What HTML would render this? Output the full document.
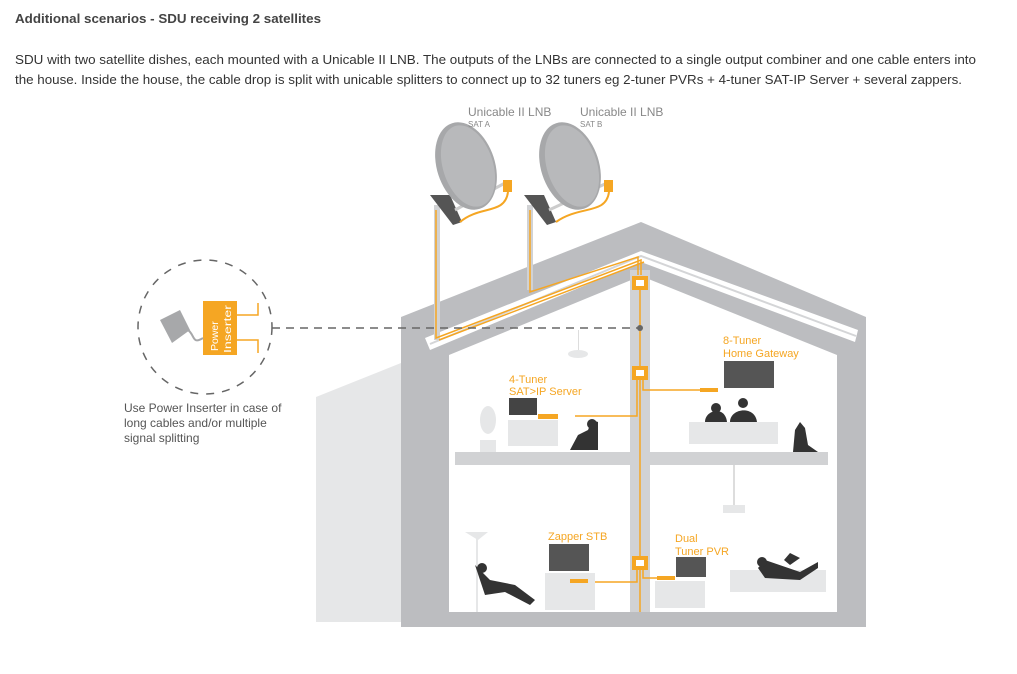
<!DOCTYPE html>
<html><head><meta charset="utf-8"><style>
html,body{margin:0;padding:0;background:#fff;}
svg{display:block;font-family:"Liberation Sans",sans-serif;}
</style></head><body>
<svg width="1017" height="674" viewBox="0 0 1017 674" xmlns="http://www.w3.org/2000/svg">
<rect width="1017" height="674" fill="#fff"/>
<text x="15" y="23" font-size="13" font-weight="bold" fill="#444" textLength="306" lengthAdjust="spacingAndGlyphs">Additional scenarios - SDU receiving 2 satellites</text>
<text x="15" y="64" font-size="13" fill="#333" textLength="961" lengthAdjust="spacingAndGlyphs">SDU with two satellite dishes, each mounted with a Unicable II LNB. The outputs of the LNBs are connected to a single output combiner and one cable enters into</text>
<text x="15" y="84" font-size="13" fill="#333" textLength="947" lengthAdjust="spacingAndGlyphs">the house. Inside the house, the cable drop is split with unicable splitters to connect up to 32 tuners eg 2-tuner PVRs + 4-tuner SAT-IP Server + several zappers.</text>

<!-- shadow -->
<polygon points="316,397 401,363 401,622 316,622" fill="#e6e7e8"/>
<!-- house -->
<polygon points="401,317 641,222 866,317 866,627 401,627" fill="#bcbdc0"/>
<polygon points="449,355 641,276 837,355 837,612 449,612" fill="#fff"/>
<!-- roof white strip -->
<polygon points="425,338 641,251 858,330 855,342 641,262 430,350" fill="#fff"/>
<polyline points="430,344 641,256 856,336" fill="none" stroke="#d4d5d7" stroke-width="2"/>
<!-- floor & column -->
<rect x="455" y="452" width="373" height="13" fill="#d1d2d4"/>
<rect x="630" y="270" width="20" height="342" fill="#d1d2d4"/>

<!-- masts -->
<rect x="434" y="205" width="6" height="135" fill="#d1d2d4"/>
<rect x="527" y="205" width="6" height="85" fill="#d1d2d4"/>
<!-- dishes -->
<g>
<polygon points="430,195 450,195 462,222 453,225" fill="#555"/>
<line x1="455" y1="210" x2="505" y2="183" stroke="#ccc" stroke-width="3"/>
<ellipse cx="466" cy="166" rx="29" ry="45" transform="rotate(-18 466 166)" fill="#a7a8aa"/>
<ellipse cx="468" cy="166" rx="25" ry="42" transform="rotate(-18 468 166)" fill="#b8b9bb"/>
<rect x="503" y="180" width="9" height="12" fill="#f5a623"/>
<path d="M508,192 C505,215 480,205 460,222" stroke="#f5a623" stroke-width="2" fill="none"/>
</g>
<g>
<polygon points="524,195 544,195 556,222 547,225" fill="#555"/>
<line x1="549" y1="210" x2="607" y2="183" stroke="#ccc" stroke-width="3"/>
<ellipse cx="570" cy="166" rx="29" ry="45" transform="rotate(-18 570 166)" fill="#a7a8aa"/>
<ellipse cx="572" cy="166" rx="25" ry="42" transform="rotate(-18 572 166)" fill="#b8b9bb"/>
<rect x="604" y="180" width="9" height="12" fill="#f5a623"/>
<path d="M609,192 C606,215 580,205 556,222" stroke="#f5a623" stroke-width="2" fill="none"/>
</g>
<text x="468" y="116" font-size="12" fill="#888">Unicable II LNB</text>
<text x="468" y="127" font-size="8" fill="#888">SAT A</text>
<text x="580" y="116" font-size="12" fill="#888">Unicable II LNB</text>
<text x="580" y="127" font-size="8" fill="#888">SAT B</text>

<!-- cables -->
<g stroke="#f5a623" stroke-width="1.5" fill="none">
<polyline points="436,210 436,338 641,260 641,275"/>
<polyline points="530,210 530,292 638,257 638,275"/>
<polyline points="439,340 644,262"/>
<line x1="640" y1="290" x2="640" y2="612"/>
<polyline points="637,380 637,416 575,416"/>
<polyline points="643,380 643,390 700,390"/>
<polyline points="637,570 637,582 590,582"/>
<polyline points="643,570 643,578 657,578"/>
</g>
<rect x="632" y="276" width="16" height="14" fill="#f5a623"/><rect x="636" y="280" width="8" height="6" fill="#fff"/>
<rect x="632" y="366" width="16" height="14" fill="#f5a623"/><rect x="636" y="370" width="8" height="6" fill="#fff"/>
<rect x="632" y="556" width="16" height="14" fill="#f5a623"/><rect x="636" y="560" width="8" height="6" fill="#fff"/>

<!-- dashed -->
<line x1="272" y1="328" x2="638" y2="328" stroke="#666" stroke-width="1.5" stroke-dasharray="8,6"/>
<circle cx="640" cy="328" r="3" fill="#666"/>
<circle cx="205" cy="327" r="67" fill="none" stroke="#666" stroke-width="1.5" stroke-dasharray="8,8"/>
<rect x="203" y="301" width="34" height="54" fill="#f5a623"/>
<text transform="translate(218,351) rotate(-90)" font-size="10.5" fill="#fff">Power</text>
<text transform="translate(231,353) rotate(-90)" font-size="10.5" fill="#fff" textLength="48" lengthAdjust="spacingAndGlyphs">Inserter</text>
<polyline points="237,315 258,315 258,303" stroke="#f5a623" stroke-width="1.5" fill="none"/>
<polyline points="237,340 258,340 258,353" stroke="#f5a623" stroke-width="1.5" fill="none"/>
<polygon points="160,320 180,310 190,330 172,343" fill="#a7a8aa"/>
<path d="M188,330 C195,335 192,345 203,338" stroke="#a7a8aa" stroke-width="2" fill="none"/>
<text x="124" y="412" font-size="12" fill="#555">Use Power Inserter in case of</text>
<text x="124" y="427" font-size="12" fill="#555">long cables and/or multiple</text>
<text x="124" y="442" font-size="12" fill="#555">signal splitting</text>

<!-- labels -->
<g font-size="11" fill="#f5a623">
<text x="509" y="383">4-Tuner</text><text x="509" y="395">SAT&gt;IP Server</text>
<text x="723" y="344">8-Tuner</text><text x="723" y="357">Home Gateway</text>
<text x="548" y="540">Zapper STB</text>
<text x="675" y="542">Dual</text><text x="675" y="555">Tuner PVR</text>
</g>
<!-- upper left room -->
<rect x="509" y="398" width="28" height="17" fill="#444"/>
<rect x="508" y="420" width="50" height="26" fill="#e6e7e8"/>
<rect x="538" y="414" width="20" height="5" fill="#f5a623"/>
<rect x="480" y="440" width="16" height="12" fill="#e6e7e8"/>
<ellipse cx="488" cy="420" rx="8" ry="14" fill="#e6e7e8"/>
<path d="M570,450 L578,435 L588,430 L592,420 L598,422 L598,450 Z" fill="#333"/>
<circle cx="592" cy="424" r="5" fill="#333"/>
<!-- upper right -->
<rect x="724" y="361" width="50" height="27" fill="#555"/>
<rect x="700" y="388" width="18" height="4" fill="#f5a623"/>
<rect x="689" y="422" width="89" height="22" fill="#e6e7e8"/>
<path d="M705,422 C705,410 725,405 727,422 Z" fill="#333"/>
<path d="M730,422 C730,408 755,405 757,422 Z" fill="#333"/>
<circle cx="716" cy="408" r="5" fill="#333"/><circle cx="743" cy="403" r="5" fill="#333"/>
<path d="M793,452 L795,430 L800,422 L805,428 L808,445 L818,452 Z" fill="#333"/>
<rect x="733" y="465" width="2" height="40" fill="#ddd"/><rect x="723" y="505" width="22" height="8" fill="#e6e7e8"/>
<rect x="578" y="330" width="1" height="20" fill="#ddd"/><ellipse cx="578" cy="354" rx="10" ry="4" fill="#e6e7e8"/>
<!-- lower left -->
<rect x="549" y="544" width="40" height="27" fill="#555"/>
<rect x="545" y="573" width="50" height="37" fill="#e6e7e8"/>
<rect x="570" y="579" width="18" height="4" fill="#f5a623"/>
<rect x="476" y="537" width="2" height="75" fill="#e6e7e8"/>
<polygon points="465,532 488,532 478,540" fill="#e6e7e8"/>
<path d="M475,565 L490,580 L515,585 L535,600 L530,605 L505,592 L485,595 Z" fill="#333"/>
<circle cx="482" cy="568" r="5" fill="#333"/>
<!-- lower right -->
<rect x="676" y="557" width="30" height="20" fill="#555"/>
<rect x="657" y="576" width="18" height="4" fill="#f5a623"/>
<rect x="655" y="581" width="50" height="27" fill="#e6e7e8"/>
<rect x="730" y="570" width="96" height="22" fill="#e6e7e8"/>
<path d="M758,568 L765,560 L800,572 L818,562 L818,568 L800,580 L765,578 Z" fill="#333"/>
<circle cx="762" cy="562" r="5" fill="#333"/>
<path d="M784,560 L790,553 L800,558 L790,565 Z" fill="#333"/>
</svg>
</body></html>
